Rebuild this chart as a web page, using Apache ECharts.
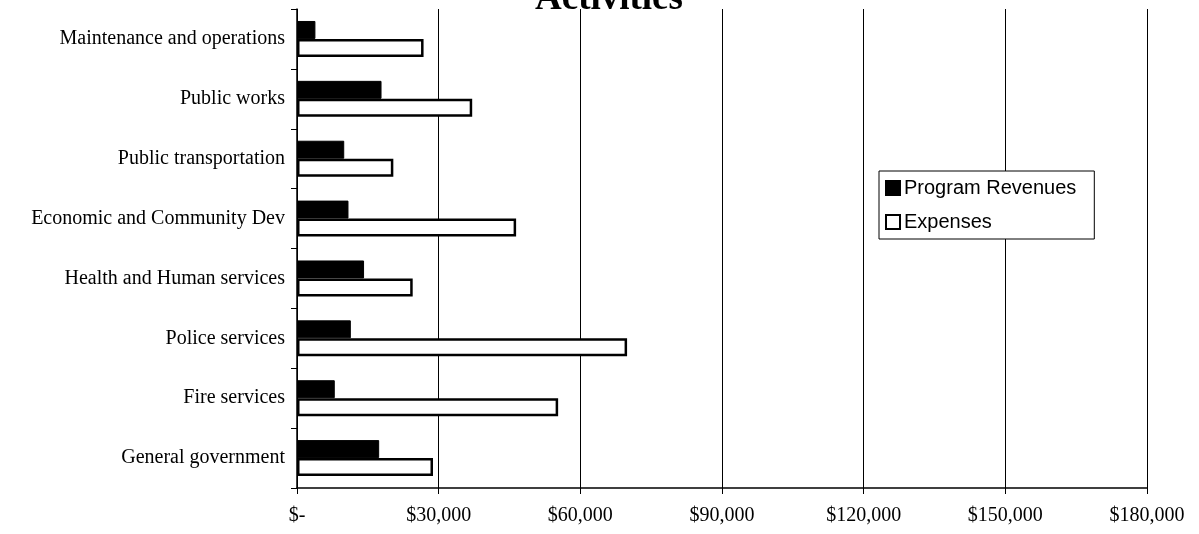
<!DOCTYPE html>
<html>
<head>
<meta charset="utf-8">
<script src="https://cdn.jsdelivr.net/npm/echarts@6/dist/echarts.min.js"></script>
<style>
  html, body { margin: 0; padding: 0; background: #fff; }
  #chart { width: 1199px; height: 534px; }
</style>
</head>
<body>
<div id="chart"></div>
<script>
// Categories listed bottom to top, as the category axis runs upward
const categories = [
  'General government',
  'Fire services',
  'Police services',
  'Health and Human services',
  'Economic and Community Dev',
  'Public transportation',
  'Public works',
  'Maintenance and operations'
];
const programRevenues = [17400, 8000, 11400, 14200, 10900, 10000, 17900, 3900];
const expenses = [28800, 55300, 69900, 24500, 46400, 20400, 37100, 26800];
const seriesNames = ['Program Revenues', 'Expenses'];
const titleText = 'Activities';

const serif = 'Liberation Serif';
const sans = 'Liberation Sans';

function moneyLabel(v) {
  if (v === 0) return '$-';
  return '$' + v.toLocaleString('en-US');
}

const chart = echarts.init(document.getElementById('chart'), null, { renderer: 'canvas' });
chart.setOption({
  animation: false,
  backgroundColor: '#ffffff',
  title: {
    text: titleText,
    left: 535,
    top: -19,
    padding: 0,
    textStyle: { fontFamily: serif, fontSize: 37, fontWeight: 'bold', color: '#000' }
  },
  legend: {
    orient: 'vertical',
    left: 879,
    top: 171,
    padding: [7, 18, 7, 6],
    itemGap: 14,
    itemWidth: 14,
    itemHeight: 14,
    icon: 'rect',
    backgroundColor: '#fff',
    borderColor: '#000',
    borderWidth: 1,
    textStyle: { fontFamily: sans, fontSize: 20, color: '#000', padding: [0, 0, 0, -1] },
    data: seriesNames
  },
  grid: { left: 297, right: 52, top: 9, bottom: 46, containLabel: false },
  xAxis: {
    type: 'value',
    min: 0,
    max: 180000,
    interval: 30000,
    axisLine: { show: true, lineStyle: { color: '#000', width: 1.5 } },
    axisTick: { show: true, length: 6, lineStyle: { color: '#000' } },
    axisLabel: {
      margin: 18,
      fontFamily: serif,
      fontSize: 20,
      color: '#000',
      formatter: moneyLabel
    },
    splitLine: { show: true, lineStyle: { color: '#000', width: 1 } }
  },
  yAxis: {
    type: 'category',
    data: categories,
    axisLine: { show: true, lineStyle: { color: '#000', width: 1.5 } },
    axisTick: { show: true, length: 6, lineStyle: { color: '#000' } },
    axisLabel: { margin: 12, fontFamily: serif, fontSize: 20, color: '#000' },
    splitLine: { show: false }
  },
  series: [
    {
      name: seriesNames[0],
      type: 'bar',
      data: programRevenues,
      barGap: '0%',
      barCategoryGap: '40%',
      itemStyle: { color: '#000', borderColor: '#000', borderWidth: 1 }
    },
    {
      name: seriesNames[1],
      type: 'bar',
      data: expenses,
      barGap: '0%',
      barCategoryGap: '40%',
      itemStyle: { color: '#fff', borderColor: '#000', borderWidth: 2.5 }
    }
  ]
});
</script>
</body>
</html>
